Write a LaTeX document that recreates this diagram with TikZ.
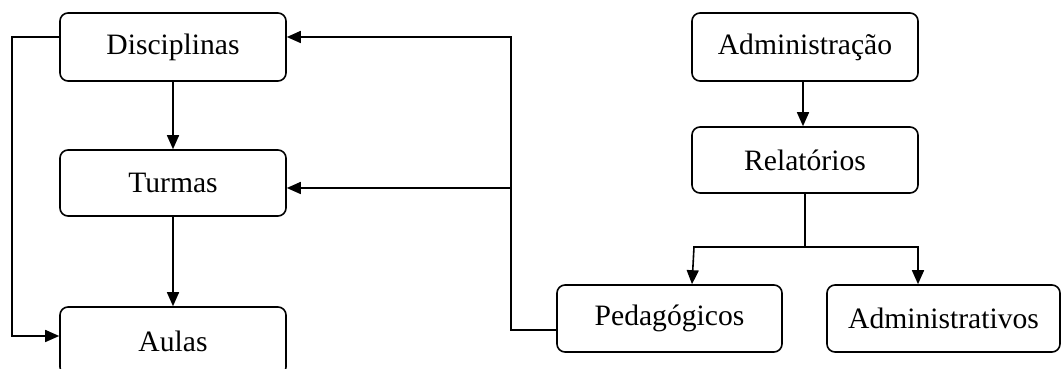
\documentclass[tikz,border=0pt]{standalone}
\usepackage{fontspec}
\setmainfont{Liberation Serif}
\usetikzlibrary{arrows.meta}
\begin{document}
\begin{tikzpicture}[x=1pt,y=1pt,
  box/.style={draw,line width=1.6pt,rounded corners=8pt,minimum width=226pt,minimum height=67pt,inner sep=0pt,
    font=\fontsize{29.6}{34}\selectfont},
  conn/.style={line width=1.6pt},
  arr/.style={line width=1.6pt,-{Triangle[length=14pt,width=12pt]}}]
\useasboundingbox (0,0) rectangle (1061,369);
\node[box,minimum height=68pt] (disc) at (173,322) {Disciplinas};
\node[box,minimum height=66pt] (turmas) at (173,186) {Turmas};
\node[box,minimum height=68pt] (aulas) at (173,28) {Aulas};
\node[box,minimum height=68pt] (admin) at (805,322) {Administração};
\node[box,minimum height=66pt] (rel) at (805,209) {Relatórios};
\node[box,minimum width=225pt] (ped) at (669.5,50.5) {Pedagógicos};
\node[box,minimum width=233pt] (adm) at (943.5,50.5) {Administrativos};
% left loop
\coordinate (l1) at (12,332);
\coordinate (l2) at (12,33);
\draw[arr] (disc.west |- l1) -- (l1) -- (l2) -- (aulas.west |- l2);
\draw[arr] (disc.south) -- (turmas.north);
\draw[arr] (turmas.south) -- (aulas.north);
% right feedback
\coordinate (rt) at (511,332);
\coordinate (rm) at (511,181);
\coordinate (rb) at (511,39);
\draw[conn] (ped.west |- rb) -- (rb) -- (rm);
\draw[arr] (rm) -- (rt) -- (disc.east |- rt);
\draw[arr] (rm) -- (turmas.east |- rm);
% right tree
\draw[arr] (admin.south -| 803,0) -- (rel.north -| 803,0);
\coordinate (j) at (805,122);
\coordinate (jl) at (694,122);
\coordinate (jr) at (918,122);
\draw[conn] (rel.south) -- (j);
\draw[arr] (j) -- (jl) -- (ped.north -| 692,0);
\draw[arr] (j) -- (jr) -- (adm.north -| 918,0);
\end{tikzpicture}
\end{document}
